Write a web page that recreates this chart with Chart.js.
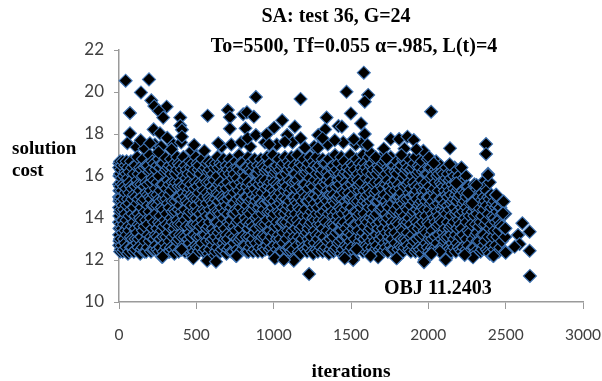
<!DOCTYPE html>
<html>
<head>
<meta charset="utf-8">
<script src="https://cdn.jsdelivr.net/npm/chart.js@4"></script>
<style>
html, body { margin: 0; padding: 0; background: #fff; }
#wrap { width: 602px; height: 381px; }
</style>
</head>
<body>
<div id="wrap"><canvas id="scatter" width="602" height="381"></canvas></div>
<script>
// each row: iteration, then the costs seen around it
const cloudA = [
  [3,12.9,14.1,15.3,16.6,13.5,14.8,16.0],[12,12.5,13.7,15.0,16.3,14.4,15.7],[24,12.4,13.3,14.6,15.6,16.7,13.9],
  [41,12.8,14.2,15.2,16.2,13.4,16.5],[58,12.3,13.6,14.9,15.9,16.4],[77,12.6,13.1,14.4,15.5,16.7],
  [96,12.4,13.8,15.1,16.1,14.5],[118,12.8,13.3,14.7,15.8,16.9],[137,12.3,14.0,15.3,16.4,13.6],
  [155,12.6,13.4,14.8,16.0,16.8],[176,12.4,13.9,15.2,15.7,16.5],[198,12.9,14.3,15.0,16.2,17.0],
  [216,12.5,13.5,14.6,15.9,16.7],[238,12.7,13.2,14.2,15.4,16.3],[259,12.4,13.8,14.9,16.0,16.8],
  [277,12.16,13.4,14.5,15.6,16.6],[296,12.8,13.9,15.1,16.2,16.9],[318,12.4,13.3,14.7,15.8,16.4],
  [337,12.6,14.0,15.3,16.1,16.8],[358,12.3,13.5,14.4,15.5,16.6],[376,12.9,13.9,15.0,16.3,16.9],
  [395,12.5,13.2,14.6,15.7,16.5],[416,12.7,14.1,15.2,16.0,16.9],[437,12.5,13.6,14.8,15.9,16.3],
  [458,12.8,13.3,14.3,15.4,16.7]
];
const cloudB = [
  [476,12.2,13.7,15.0,16.1,16.6],[497,12.7,14.0,14.6,15.7,16.9],[516,12.4,13.4,15.2,16.3,16.5],
  [537,12.8,13.9,14.7,15.6,16.8],[558,12.5,13.2,14.3,15.9,16.4],[579,12.3,13.6,15.0,16.2,16.7],
  [598,12.9,14.1,14.8,15.5,16.6],[617,12.2,13.3,14.5,15.8,16.4],[636,12.6,13.8,15.2,16.0,16.9],
  [655,12.4,13.5,14.2,15.7,16.6],[676,12.8,14.0,14.9,16.2,16.8],[695,12.3,13.2,14.6,15.4,16.5],
  [716,12.6,13.7,15.1,16.1,16.8],[737,12.4,14.2,14.7,15.9,16.3],[755,12.2,13.4,14.4,15.6,16.7],
  [776,12.9,13.9,15.3,16.3,17.0],[797,12.5,13.1,14.8,15.5,16.6],[818,12.7,14.0,15.0,16.0,16.4],
  [837,12.4,13.5,14.3,15.7,16.9],[858,12.8,13.8,14.9,16.2,16.7],[877,12.5,13.3,14.6,15.4,16.8],
  [898,12.4,14.1,15.2,16.1,16.5],[917,12.9,13.6,14.7,15.8,16.8],[936,12.6,13.2,14.4,15.6,16.4],
  [957,12.7,13.9,15.0,16.3,16.9]
];
const cloudC = [
  [976,12.5,13.4,14.8,15.7,16.6],[995,12.3,14.0,14.5,15.9,17.0],[1012,12.1,13.6,15.1,16.2,16.4],
  [1033,12.7,13.2,14.3,15.5,16.8],[1054,12.4,13.8,14.9,16.0,16.5],[1073,12.1,14.2,15.3,15.7,16.9],
  [1094,12.6,13.4,14.6,16.3,16.7],[1115,12.4,13.7,14.2,15.4,16.9],[1134,12.1,13.1,15.0,16.1,16.5],
  [1153,12.7,13.9,14.7,15.8,17.0],[1174,12.3,13.5,14.4,16.0,16.6],[1195,12.6,14.1,15.2,15.6,16.8],
  [1216,12.4,13.3,14.8,16.2,16.4],[1235,12.8,13.7,15.0,15.9,16.9],[1256,12.3,14.0,14.5,15.5,16.7],
  [1277,12.5,13.2,14.2,16.1,16.9],[1296,12.7,13.9,15.3,15.7,16.5],[1317,12.4,13.5,14.6,16.3,16.8],
  [1338,12.6,13.8,14.9,15.6,16.6],[1357,12.3,14.2,15.1,16.0,16.8],[1378,12.7,13.3,14.3,15.4,16.4],
  [1397,12.5,13.6,14.7,16.2,17.0],[1418,12.8,14.1,15.0,15.8,16.6],[1437,12.3,13.4,14.4,15.9,16.9],
  [1456,12.2,13.8,15.2,16.1,16.7]
];
const cloudD = [
  [1477,12.6,13.1,14.6,15.5,16.4],[1496,12.9,14.0,14.9,16.3,17.0],[1515,12.1,13.5,15.1,15.8,16.5],
  [1536,12.5,13.7,14.3,16.0,16.8],[1557,12.9,14.2,15.3,15.6,16.6],[1578,12.4,13.3,14.7,16.2,17.0],
  [1597,12.7,13.9,15.0,15.9,16.4],[1616,12.3,13.4,14.5,15.4,16.9],[1637,12.6,13.7,14.2,16.1,16.6],
  [1656,12.9,14.1,15.2,15.7,16.8],[1677,12.2,13.5,14.8,16.3,16.5],[1698,12.6,13.2,14.4,15.5,16.9],
  [1717,12.8,13.9,15.1,16.0,16.7],[1738,12.4,14.0,14.6,15.8,16.4],[1757,12.7,13.3,15.3,16.2,16.9],
  [1778,12.5,13.6,14.3,15.6,16.5],[1797,12.1,13.8,14.9,16.1,16.7],[1818,12.7,14.2,15.0,15.4,16.3],
  [1837,12.4,13.4,14.7,15.9,16.8],[1858,12.9,13.7,14.5,16.3,16.6],[1877,12.5,14.0,15.2,15.7,16.8],
  [1898,12.7,13.2,14.2,16.0,16.4],[1917,12.4,13.9,15.1,15.5,16.9],[1938,12.6,13.5,14.6,16.2,16.5],
  [1957,12.3,14.1,14.8,15.8,16.7]
];
const cloudE = [
  [1976,12.0,13.4,14.4,15.6,16.3],[1997,12.6,13.8,15.0,16.1,16.8],[2016,12.3,13.2,14.7,15.9,16.4],
  [2037,12.5,14.0,15.2,15.4,16.6],[2058,12.8,13.6,14.3,16.0,16.2],[2079,12.4,13.9,14.9,15.7,16.5],
  [2098,12.7,13.3,14.6,15.5,16.1],[2117,12.1,14.2,15.1,15.9,16.4],[2138,12.5,13.5,14.4,15.3,15.8],
  [2157,12.8,13.7,14.8,15.6,16.2],[2178,12.4,13.2,14.2,15.1,15.7],[2197,12.6,13.9,15.0,15.4,16.0],
  [2216,12.4,13.5,14.5,15.8],[2237,12.3,14.0,14.8,15.2],[2258,12.7,13.4,14.3,15.5],
  [2279,12.2,13.7,15.0,15.3],[2298,12.6,14.1,14.5,15.6],[2317,12.9,13.3,14.2,15.1],
  [2338,12.4,13.8,14.8,15.4],[2359,12.7,13.2,14.4,15.0],[2378,12.5,13.9,14.6,15.3],
  [2397,12.3,13.5,14.9,15.7],[2418,12.2,13.1,14.1,14.7],[2437,12.7,13.8,14.5,15.1],
  [2456,12.4,13.4,13.9,14.9],[2475,12.9,13.6,14.2,14.8],[2497,12.4,13.1,13.5,14.2]
];
// second pass over the same stretches, the costs that sit between the first ones
const fillA = [
  [1,13.2,14.5,15.6,12.7,16.4,13.8,15.0],[7,12.4,13.0,14.3,15.5,16.1,14.9,16.7],[18,13.5,12.7,14.8,15.9,13.9,16.5,15.3],
  [32,13.0,14.4,12.5,15.5,16.0,14.9,13.7],[49,12.6,13.9,15.4,14.6,16.1,13.2,16.7],[67,14.1,12.4,15.2,13.4,16.2,14.7,15.7],
  [86,13.0,15.4,12.6,14.2,16.4,13.6,14.9],[107,12.5,14.1,15.5,13.5,16.5,15.0,13.0],[127,14.2,13.0,15.6,12.6,16.1,14.9,13.7],
  [146,13.1,14.5,12.5,15.6,13.9,16.3,15.0],[166,12.9,14.3,15.5,13.6,16.4,12.4,14.9],[187,13.2,15.6,12.6,14.6,16.5,13.7,15.1],
  [207,14.0,12.4,15.3,13.1,16.3,14.9,15.7],[227,13.0,14.6,15.8,12.5,13.8,16.6,15.1],[248,12.5,14.6,15.7,13.5,16.5,15.1,13.1],
  [268,13.0,14.1,15.3,12.6,16.4,13.7,14.8],[287,12.4,14.4,15.6,13.1,16.6,14.9,13.6],[307,13.1,14.2,15.4,12.6,16.3,13.7,14.9],
  [327,12.9,14.5,15.6,13.6,16.5,15.1,12.4],[347,13.1,14.8,15.7,12.5,16.4,13.8,14.3],[367,12.6,14.3,15.7,13.2,16.1,14.8,13.7],
  [386,13.0,14.4,15.5,12.4,16.6,13.7,15.0],[406,12.5,13.7,14.9,13.1,16.3,15.5,14.3],[427,13.1,14.4,15.5,12.4,16.5,13.9,15.0],
  [448,12.5,14.1,15.2,13.0,16.1,14.7,15.7],[467,13.6,12.5,14.6,15.6,13.1,16.4,15.1]
];
const fillB = [
  [487,12.4,14.3,15.4,13.2,16.3,13.7,14.9],[507,13.1,14.9,12.6,15.5,13.7,16.6,14.3],[527,12.6,14.2,15.7,13.1,16.1,14.8,13.6],
  [547,13.2,14.4,15.3,12.4,16.3,13.7,15.0],[568,12.9,14.7,15.7,13.5,16.6,14.1,15.2],[588,13.1,14.4,15.7,12.5,16.3,13.8,14.9],
  [607,12.7,14.1,15.3,13.5,16.1,14.7,13.0],[626,13.1,14.9,12.4,15.4,13.8,16.6,14.3],[645,12.9,14.3,15.6,13.3,16.4,14.8,15.1],
  [665,13.1,14.5,15.4,12.5,16.5,13.7,15.0],[685,12.6,14.3,15.6,13.5,16.1,14.8,13.0],[705,13.0,14.2,15.7,12.5,16.3,13.8,14.9],
  [726,13.2,14.5,15.5,12.4,16.5,13.9,15.0],[746,12.8,14.2,15.2,13.6,16.1,14.7,13.1],[765,13.0,14.9,15.9,12.5,16.4,13.8,14.3],
  [786,12.4,14.5,15.7,13.5,16.6,15.0,13.0],[807,13.7,14.3,15.2,12.7,16.2,14.9,15.8],[827,13.1,14.6,15.5,12.4,16.4,13.8,15.0],
  [847,12.6,14.2,15.3,13.1,16.3,14.8,13.7],[867,13.0,14.4,15.6,12.4,16.5,13.6,15.1],[887,12.8,14.0,15.0,13.5,16.1,14.8,15.7],
  [907,13.2,14.5,15.6,12.6,16.3,13.8,14.9],[926,12.4,14.2,15.2,13.1,16.5,14.7,13.7],[947,13.1,14.7,15.4,12.5,16.2,13.7,15.8],
  [966,12.9,14.3,15.5,13.4,16.4,14.8,15.1]
];
const fillC = [
  [986,13.1,14.3,15.4,12.6,16.3,13.7,14.9],[1004,12.7,14.2,15.3,13.3,16.1,14.8,15.7],[1022,13.0,14.6,15.6,12.5,16.5,13.8,15.0],
  [1043,12.4,14.2,15.2,13.0,16.3,14.7,13.6],[1063,12.8,14.5,15.6,13.3,16.6,15.0,13.8],[1083,13.0,14.4,15.5,12.5,16.1,13.8,14.9],
  [1104,12.6,14.0,15.2,13.2,16.5,14.8,15.8],[1124,13.4,14.5,15.7,12.5,16.3,13.9,15.0],[1143,12.9,14.2,15.4,13.5,16.1,14.8,15.7],
  [1163,13.1,14.5,15.5,12.4,16.4,13.7,15.0],[1185,12.8,14.2,15.3,13.0,16.5,14.8,13.6],[1205,13.2,14.4,15.6,12.5,16.1,13.8,15.0],
  [1225,12.6,14.1,15.4,13.5,16.6,14.8,13.0],[1245,13.1,14.3,15.6,12.4,16.3,13.8,14.9],[1266,12.8,14.7,15.8,13.4,16.5,15.1,13.9],
  [1286,13.0,14.5,15.3,12.4,16.4,13.7,15.0],[1306,12.6,14.2,15.5,13.2,16.1,14.8,13.7],[1327,13.1,14.3,15.7,12.5,16.6,13.9,15.0],
  [1347,12.9,14.5,15.3,13.4,16.2,14.8,15.8],[1367,13.0,14.6,15.7,12.5,16.4,13.7,15.1],[1387,12.4,14.1,15.1,13.1,16.5,14.8,13.7],
  [1407,13.3,14.3,15.5,12.6,16.3,13.9,14.9],[1427,12.9,14.5,15.6,13.4,16.1,15.1,13.8],[1446,13.0,14.2,15.3,12.5,16.4,13.7,14.9],
  [1466,12.7,14.4,15.7,13.5,16.2,14.8,13.1]
];
const fillD = [
  [1487,13.3,14.2,15.2,12.4,16.1,13.7,14.9],[1505,12.6,14.5,15.6,13.2,16.6,13.8,15.0],[1525,13.0,14.3,15.4,12.4,16.3,13.7,14.8],
  [1546,12.7,14.1,15.5,13.4,16.1,14.8,15.8],[1567,13.1,14.5,15.7,12.6,16.4,13.8,15.0],[1587,12.5,14.2,15.3,13.0,16.6,14.8,13.6],
  [1607,13.1,14.7,15.5,12.6,16.2,13.8,15.1],[1627,12.9,14.0,15.2,13.5,16.5,14.8,15.8],[1646,13.1,14.5,15.6,12.4,16.3,13.9,14.9],
  [1667,12.7,14.2,15.3,13.2,16.1,14.8,13.7],[1687,13.0,14.4,15.7,12.5,16.4,13.8,15.0],[1707,12.4,14.5,15.4,13.5,16.6,14.9,13.1],
  [1727,13.3,14.2,15.6,12.6,16.1,13.8,14.8],[1747,12.9,14.5,15.5,13.5,16.3,15.0,13.1],[1767,13.0,14.1,15.7,12.5,16.5,14.7,13.8],
  [1787,12.8,14.4,15.3,13.3,16.2,14.9,15.8],[1807,13.1,14.6,15.6,12.5,16.4,13.7,15.0],[1827,12.6,14.3,15.2,13.5,16.5,14.8,13.0],
  [1847,13.0,14.1,15.5,12.6,16.1,13.8,14.9],[1867,12.7,14.4,15.6,13.3,16.4,14.9,13.8],[1887,13.1,14.6,15.4,12.4,16.3,13.7,15.0],
  [1907,12.9,14.3,15.7,13.5,16.6,14.8,15.1],[1927,13.0,14.4,15.3,12.5,16.1,13.8,14.9],[1947,12.5,14.3,15.5,13.1,16.4,14.7,13.7],
  [1966,13.2,14.5,15.3,12.6,16.2,13.8,15.0]
];
const fillE = [
  [1986,12.8,14.1,15.3,13.3,16.1,14.8,15.7],[2006,13.0,14.4,15.5,12.4,16.4,13.7,15.0],[2026,12.6,14.2,15.3,13.4,16.0,14.8,13.0],
  [2047,13.1,14.6,15.7,12.6,16.3,13.8,15.0],[2068,12.5,14.1,15.3,13.2,16.1,14.7,13.7],[2088,13.0,14.4,15.6,12.6,16.2,13.8,14.9],
  [2107,12.9,14.3,15.3,13.5,15.8,14.7,13.1],[2127,13.1,14.6,15.5,12.6,16.1,13.8,15.0],[2147,12.4,14.1,15.1,13.2,15.9,14.7,13.6],
  [2167,13.0,14.5,15.4,12.6,16.0,13.8,14.9],[2187,12.8,14.3,15.3,13.5,15.8,14.8],[2206,13.1,14.2,15.1,12.5,15.6,13.7],
  [2226,12.6,14.3,15.3,13.2,15.7,14.7],[2247,13.0,14.5,15.0,12.5,15.5,13.8],[2268,12.4,14.1,15.2,13.3,14.7],
  [2288,13.0,14.3,15.2,12.6,14.8],[2308,12.4,13.7,14.8,13.2,15.3],[2328,12.9,14.5,15.0,13.6],
  [2348,13.2,14.1,15.2,12.5],[2368,12.9,13.7,14.8,15.5],[2388,13.1,14.2,15.0,12.4],
  [2408,12.7,13.7,14.5,15.1],[2428,13.4,14.0,14.8,12.5],[2447,13.1,14.3,14.6],[2466,12.6,13.7,14.5]
];
// sparser band just over the cloud
const crownCosts = [
  [110,17.4],[165,17.3],[232,17.5],[272,17.4],[352,17.5],[402,17.6],[470,17.2],[552,17.2],[664,17.4],[726,17.5],
  [790,17.6],[848,17.4],[944,17.6],[1020,17.5],[1122,17.6],[1262,17.4],[1350,17.5],[1450,17.6],[1530,17.5],[1572,17.6],
  [1628,17.1],[1712,17.3],[1846,17.3],[1968,17.2],[2050,16.7],[2170,16.4],[2244,16.0],[2352,15.7]
];
// points that stand clear of the cloud, read one by one
const upperA = [
  [43,20.54],[194,20.6],[142,19.98],[209,19.6],[228,19.33],[308,19.3],[258,19.1],[286,18.78],[71,19.0],[396,18.78],
  [396,18.4],[407,18.2],[407,17.87],[71,18.03],[54,17.56],[140,17.7],[224,18.22],[265,18.03],[312,17.82],[340,17.27],
  [200,17.56],[256,17.14],[486,17.48],[573,18.87],[642,17.56],[704,19.14],[717,18.8],[717,18.25],[803,18.94],[827,19.03],
  [872,18.82],[885,19.76],[818,18.27],[831,17.8],[885,17.95],[954,17.98],[1003,18.3],[1055,18.65],[971,17.51],[1137,18.35]
];
const upperB = [
  [1174,19.67],[1087,17.95],[1072,17.63],[1174,17.8],[1202,17.35],[1342,18.78],[1333,18.22],[1288,17.95],[1316,17.8],[1395,17.7],
  [1419,18.38],[1286,17.33],[1583,20.92],[1471,20.01],[1611,19.86],[1589,19.54],[1499,18.98],[1565,18.5],[1441,18.35],[1589,18.0],
  [1518,17.75],[1607,17.48],[1757,17.76],[1811,17.76],[1865,17.87],[1906,17.71],[1923,17.27],[2018,19.06],[1826,17.0],[2140,17.32],
  [2005,16.89],[2035,16.6],[2138,16.56],[2214,16.4],[2373,17.52],[2373,17.05],[2386,16.1],[1660,16.89],[1729,16.84],[2181,15.65]
];
const tailPoints = [
  [2386,16.05],[2311,15.57],[2257,15.18],[2440,15.1],[2487,14.78],[2284,14.7],[2483,14.22],[2498,13.51],[2608,13.75],[2655,13.35],
  [2580,13.19],[2590,12.76],[2558,12.63],[2655,12.44],[2657,11.24],[2500,12.35],[2422,12.19],[2289,12.13],[2235,12.24],[2112,12.0],
  [1972,11.9],[1794,12.08],[1675,12.13],[1626,12.19],[1514,12.0],[1460,12.08],[1537,12.52],[2074,12.4],[2020,12.29],[282,12.16],
  [1229,11.33],[480,12.08],[570,11.97],[627,11.92],[760,12.19],[1008,12.08],[1130,11.97],[1066,12.0],[405,12.5]
];
const xTicks = [0, 500, 1000, 1500, 2000, 2500, 3000];
const yTicks = [10, 12, 14, 16, 18, 20, 22];
const titleLine1 = 'SA: test 36, G=24';
const titleLine2 = 'To=5500, Tf=0.055 \u03b1=.985, L(t)=4';
const yTitle = ['solution', 'cost'];
const xTitle = 'iterations';
const objNote = 'OBJ 11.2403';

// drawn in iteration order so later runs sit on top, as in the original
const rows = [...cloudA, ...cloudB, ...cloudC, ...cloudD, ...cloudE, ...fillA, ...fillB, ...fillC, ...fillD, ...fillE, ...crownCosts]
  .sort((a, b) => a[0] - b[0]);
const cloudPts = rows.flatMap(r => r.slice(1).map(c => ({ x: r[0], y: c })));
const loose = [...upperA, ...upperB, ...tailPoints].map(p => ({ x: p[0], y: p[1] }));

const textNotes = {
  id: 'textNotes',
  afterDraw(chart) {
    const ctx = chart.ctx;
    ctx.save();
    ctx.fillStyle = '#000';
    ctx.textBaseline = 'alphabetic';
    ctx.font = 'bold 20px "Liberation Serif"';
    ctx.textAlign = 'center';
    ctx.fillText(titleLine1, 336, 22);
    ctx.fillText(titleLine2, 354, 52);
    ctx.font = 'bold 19.5px "Liberation Serif"';
    ctx.fillText(xTitle, 351, 377);
    ctx.textAlign = 'left';
    ctx.font = 'bold 19px "Liberation Serif"';
    ctx.fillText(yTitle[0], 12, 154);
    ctx.fillText(yTitle[1], 12, 176);
    ctx.font = 'bold 20px "Liberation Serif"';
    ctx.fillText(objNote, 384, 294);
    ctx.restore();
  }
};

new Chart(document.getElementById('scatter'), {
  type: 'scatter',
  data: {
    datasets: [{
      data: [...cloudPts, ...loose],
      pointStyle: 'rectRot',
      pointRadius: 6.5,
      backgroundColor: '#000',
      borderColor: '#3f74b5',
      borderWidth: 1.1,
      clip: false
    }]
  },
  plugins: [textNotes],
  options: {
    responsive: false,
    animation: false,
    layout: { autoPadding: false, padding: { top: 50, right: 19, left: 0, bottom: 0 } },
    plugins: { legend: { display: false }, title: { display: false }, tooltip: { enabled: false } },
    scales: {
      x: {
        type: 'linear',
        min: 0,
        max: 3000,
        // last label hangs past the axis, so no room is kept for it
        afterFit: s => { s.height = 79; s.paddingLeft = 0; s.paddingRight = 0; },
        afterBuildTicks: s => { s.ticks = xTicks.map(v => ({ value: v })); },
        grid: { drawOnChartArea: false, color: '#9a9a9a', tickLength: 7 },
        border: { color: '#9a9a9a', width: 1.5 },
        ticks: { color: '#404040', font: { family: 'Lato', size: 15.5 }, padding: 17, maxRotation: 0, callback: v => String(v) }
      },
      y: {
        min: 10,
        max: 22,
        afterFit: s => { s.width = 119; s.paddingTop = 0; s.paddingBottom = 0; },
        afterBuildTicks: s => { s.ticks = yTicks.map(v => ({ value: v })); },
        grid: { drawOnChartArea: false, color: '#9a9a9a', tickLength: 5 },
        border: { color: '#9a9a9a', width: 1.5 },
        ticks: { color: '#404040', font: { family: 'Lato', size: 17 }, padding: 10 }
      }
    }
  }
});
</script>
</body>
</html>
